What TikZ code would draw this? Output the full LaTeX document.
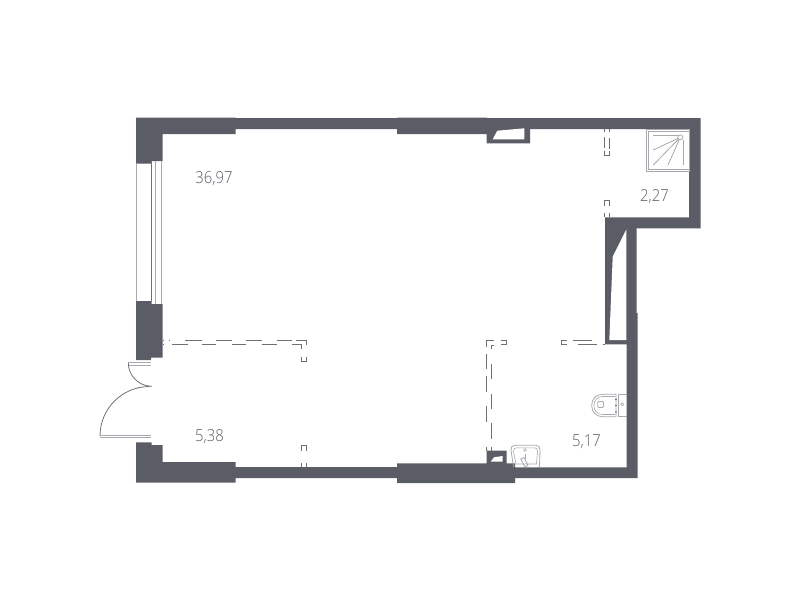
\documentclass[tikz,border=0pt]{standalone}
\usepackage{fontspec}
\setmainfont{Open Sans Light}
\definecolor{wall}{HTML}{5A5D65}
\definecolor{lgray}{HTML}{A8A8AE}
\definecolor{mgray}{HTML}{6E7078}
\tikzset{
  wallfill/.style={fill=wall,draw=none},
  glass/.style={draw=lgray,line width=1.3pt},
  thinline/.style={draw=mgray,line width=0.8pt},
  partition/.style={draw=mgray,line width=0.8pt},
  fixture/.style={draw=lgray,line width=0.8pt},
  area/.style={text=wall,font=\fontsize{16.5}{16.5}\selectfont,inner sep=0pt,anchor=base}
}
\newcommand{\areatext}[1]{\scalebox{0.9}[1]{#1}}
\begin{document}
\begin{tikzpicture}[x=1pt,y=-1pt]
\useasboundingbox (0,0) rectangle (800,600);
% outer walls
\path[wallfill] (136,117.5) -- (235.5,117.5) -- (235.5,118) -- (397,118) -- (397,117.5) -- (487,117.5) -- (487,118) -- (700.5,118) -- (700.5,228.3)
  -- (636.5,228.3) -- (636.5,313) -- (637.5,313) -- (637.5,478) -- (515,478) -- (515,483) -- (397,483) -- (397,478) -- (235.5,478) -- (235.5,482.5) -- (136,482.5)
  -- (136,442.3) -- (151.5,442.3) -- (151.5,445) -- (162.5,445) -- (162.5,462) -- (235.5,462) -- (235.5,467) -- (397,467) -- (397,463.3) -- (486.7,463.3)
  -- (486.7,450.7) -- (506.7,450.7) -- (506.7,463.3) -- (515,463.3) -- (515,467.3) -- (626.5,467.3) -- (626.5,344.3) -- (605,344.3) -- (605,217.3)
  -- (689,217.3) -- (689,129) -- (530,129) -- (530,143.3) -- (486.7,143.3) -- (486.7,134) -- (397,134) -- (397,129) -- (235.5,129) -- (235.5,134)
  -- (162.5,134) -- (162.5,161) -- (151.5,161) -- (151.5,163.5) -- (136,163.5) -- cycle;
\path[wallfill] (136,301) -- (151.5,301) -- (151.5,304) -- (162.5,304) -- (162.5,357.5) -- (151,357.5) -- (151,360) -- (136,360) -- cycle;
% niches
\path[fill=white] (492.7,139.3) -- (497.3,130.7) -- (524.3,128.3) -- (524.3,139.3) -- cycle;
\path[fill=white] (490.7,461.7) -- (494,457.3) -- (502.7,456) -- (502.7,461.7) -- cycle;
\path[fill=white] (626.3,229.5) -- (612.7,256.7) -- (609.3,340) -- (626.3,340) -- cycle;
% window
\draw[glass] (136.7,163.5) -- (136.7,301);
\draw[thinline] (151.5,161) -- (151.5,301);
\draw[glass] (155.5,161) -- (155.5,304);
\draw[glass] (161.8,161) -- (161.8,304);
% door
\draw[glass,line width=0.8pt] (128.3,362.8) -- (151,362.8) (128.3,365) -- (151,365);
\draw[thinline] (128.3,362.8) arc[start angle=180,end angle=90,radius=23.5];
\draw[glass,line width=0.8pt] (100,435) -- (150.7,435) (100,437.5) -- (150.7,437.5);
\draw[thinline] (100,436) arc[start angle=180,end angle=270,radius=49.5];
% dashed partition, hall
\draw[partition] (162.7,340) -- (164,340) (168.5,340) -- (170,340) (185,340) -- (201.7,340) (216,340) -- (231.7,340) (246,340) -- (261.7,340) (276.7,340) -- (292.3,340) (296,340) -- (306,340) -- (306,345);
\draw[partition] (162.7,344.3) -- (164,344.3) (172,344.3) -- (187.7,344.3) (201.7,344.3) -- (216,344.3) (231.7,344.3) -- (246,344.3) (261.7,344.3) -- (276.7,344.3) (292.3,344.3) -- (301.7,344.3) -- (301.7,349);
\draw[partition] (301.7,356.5) -- (301.7,361.5) -- (306,361.5) -- (306,356.5);
\draw[partition] (301.7,450.5) -- (301.7,445.7) -- (306,445.7) -- (306,450.5);
\draw[partition] (301.7,463.3) -- (301.7,467) (306,463.3) -- (306,467);
% dashed partition, shower
\draw[partition] (604.5,129) -- (604.5,132) (609,129) -- (609,132) (604.5,137) -- (604.5,148) (609,138) -- (609,149);
\draw[partition] (604.5,151) -- (604.5,155.5) -- (609,155.5) -- (609,151);
\draw[partition] (604.5,205.5) -- (604.5,200.7) -- (609,200.7) -- (609,205.5);
\draw[partition] (604.5,213) -- (604.5,217) (609,213) -- (609,217);
% dashed partition, bathroom
\draw[partition] (494,340) -- (486.7,340) -- (486.7,347);
\draw[partition] (494,345) -- (491,345) -- (491,349);
\draw[partition] (500.7,340) -- (506,340) -- (506,344.5) -- (500.7,344.5);
\draw[partition] (567,340) -- (561.7,340) -- (561.7,344.5) -- (567,344.5);
\draw[partition] (572.7,340) -- (591.7,340) (578,344.3) -- (597,344.3) (602.7,344.3) -- (605,344.3);
\draw[partition] (486.7,354) -- (486.7,369) (491,364) -- (491,379) (486.7,375.5) -- (486.7,391.5) (491,394) -- (491,409) (486.7,406) -- (486.7,422) (491,423) -- (491,439) (486.7,447) -- (486.7,451) (491,447) -- (491,451);
% shower tray
\draw[fixture] (646,129) rectangle (689,171.7);
\draw[fixture] (648.5,131.5) rectangle (689,169.5);
\draw[fixture] (653.3,135) -- (677.8,135) (683.3,140) -- (683.3,165);
\node[draw=lgray,line width=0.8pt,circle,minimum size=5pt,inner sep=0pt] (head) at (680.3,137.3) {};
\coordinate (r1) at (653.3,150);
\coordinate (r2) at (653.3,165);
\coordinate (r3) at (668,165);
\draw[fixture] (head) -- (r1) (head) -- (r2) (head) -- (r3);
% toilet
\draw[fixture] (618.3,394.3) -- (626.5,394.3) (618.3,416.7) -- (626.5,416.7) (618.3,394.3) -- (618.3,416.7);
\draw[fixture] (616,394.3) -- (603,394.3) .. controls (596,394.3) and (591.7,399) .. (591.7,405.5) .. controls (591.7,412) and (596,416.7) .. (603,416.7) -- (616,416.7) -- cycle;
\draw[fixture,line width=0.6pt] (615,396.5) -- (603,396.5) .. controls (597.5,396.5) and (594,400) .. (594,405.5) .. controls (594,411) and (597.5,414.5) .. (603,414.5) -- (615,414.5);
\draw[fixture,rounded corners=1pt] (597.7,401.5) rectangle (603.5,407.5);
\node[draw=lgray,line width=0.6pt,circle,minimum size=3pt,inner sep=0pt] (flush) at (622.3,404.3) {};
\fill[wall] (616,399.5) circle (0.8pt) (616,405.5) circle (0.8pt) (616,412) circle (0.8pt);
% sink
\draw[fixture] (513.5,467) -- (511,450) .. controls (511,447) and (512,445.3) .. (515,445.3) -- (536,445.3) .. controls (539,445.3) and (540,447) .. (540,450) -- (539.5,467);
\draw[fixture,line width=0.6pt] (516,464) -- (513.5,451) .. controls (513.5,449) and (514.5,447.8) .. (516.5,447.8) -- (534.5,447.8) .. controls (536.5,447.8) and (537.5,449) .. (537.5,451) -- (536.5,464) -- cycle;
\node[draw=lgray,line width=0.6pt,circle,minimum size=3pt,inner sep=0pt] (tap) at (525,450) {};
\draw[fixture] (520.7,459) -- (524,457.5) -- (528,465.5) -- (525,467) -- cycle;
\draw[fixture] (525,454) -- (525,459);
% areas
\node[area] (a1) at (214,183.5) {\areatext{36,97}};
\node[area] (a2) at (209.5,441.7) {\areatext{5,38}};
\node[area] (a3) at (654.5,201.5) {\areatext{2,27}};
\node[area] (a4) at (586.5,446) {\areatext{5,17}};
\end{tikzpicture}
\end{document}
